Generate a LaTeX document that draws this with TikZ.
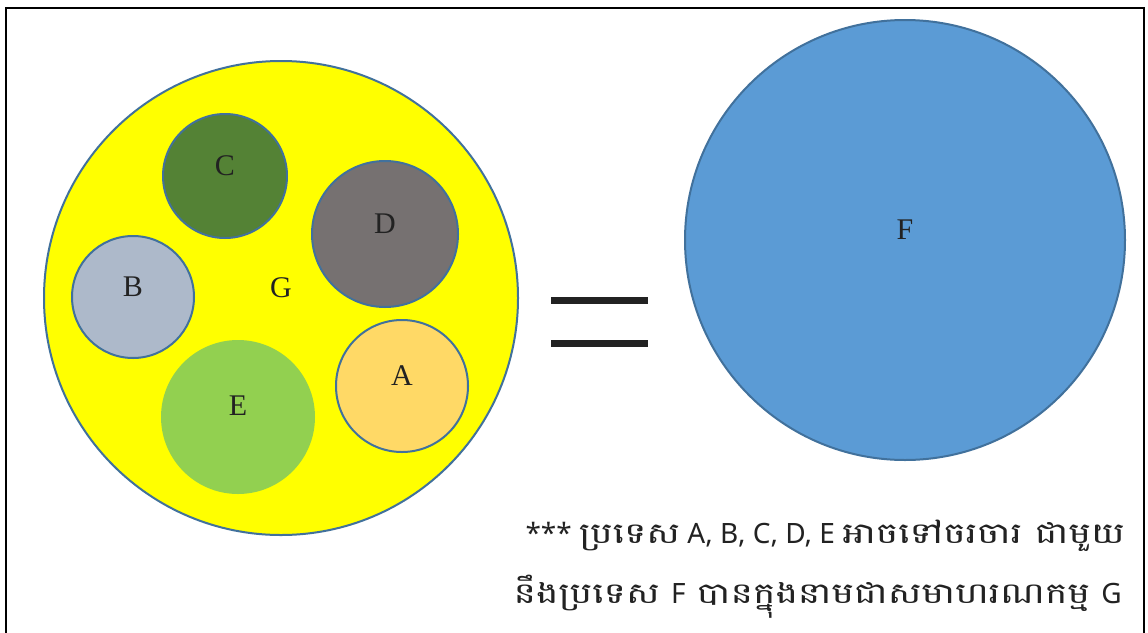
\documentclass[tikz,border=0pt]{standalone}
\usepackage{fontspec}
\setmainfont{Liberation Serif}
\newfontfamily\khmer[Script=Khmer,FakeStretch=1.3]{Battambang}
\newfontfamily\lat{Noto Sans}
\definecolor{ol}{HTML}{41719C}
\definecolor{cC}{HTML}{548235}
\definecolor{cD}{HTML}{767171}
\definecolor{cB}{HTML}{ADB9CA}
\definecolor{cE}{HTML}{92D050}
\definecolor{cA}{HTML}{FFD966}
\definecolor{cF}{HTML}{5B9BD5}
\definecolor{cG}{HTML}{FFFF00}
\definecolor{txt}{HTML}{222222}
\newcommand{\kh}[1]{{\khmer\fontsize{29}{34}\selectfont #1}}
\newcommand{\la}[1]{{\lat\fontsize{28}{34}\selectfont #1}}
\begin{document}
\begin{tikzpicture}[x=1pt,y=-1pt,
  blob/.style={circle,inner sep=0pt,draw=ol,line width=2pt},
  lab/.style={text=txt,font=\fontsize{30}{36}\selectfont,inner sep=0pt},
  captxt/.style={text=txt,inner sep=0pt,anchor=base east,font=\lat\fontsize{28}{34}\selectfont}]
\useasboundingbox (0,0) rectangle (1148,632);
\fill[white] (0,0) rectangle (1148,632);
\draw[line width=2.5pt,black] (6,645) coordinate (fbl) -- (6,8) coordinate (ftl) -- (1144,8) coordinate (ftr) -- (1144,645) coordinate (fbr);
% big yellow circle G
\node[blob,fill=cG,minimum size=474pt] (G) at (281,298) {};
\node[lab] (Gl) at (281,288) {G};
\node[blob,fill=cC,minimum size=124pt] (C) at (225,176) {};
\node[lab] (Cl) at (225,166) {C};
\node[blob,fill=cD,minimum size=146pt] (D) at (385,234) {};
\node[lab] (Dl) at (385,224) {D};
\node[blob,fill=cB,minimum size=122pt] (B) at (133,297) {};
\node[lab] (Bl) at (133,287) {B};
\node[circle,inner sep=0pt,fill=cE,minimum size=154pt] (E) at (238,417) {};
\node[lab] (El) at (238,406) {E};
\node[blob,fill=cA,minimum size=132pt] (A) at (402,386) {};
\node[lab] (Al) at (402,376) {A};
% equals sign
\fill[txt] (551,297) rectangle (648,304);
\fill[txt] (551,340) rectangle (648,347);
% big blue circle F
\node[blob,fill=cF,minimum size=440pt] (F) at (905,240) {};
\node[lab] (Fl) at (905,230) {F};
% caption
\node[captxt] (t1) at (1125,543) {\la{***} \kh{ប្រទេស} \la{A, B, C, D, E} \kh{អាចទៅចរចារ ជាមួយ}};
\node[captxt] (t2) at (1122,603) {\kh{នឹងប្រទេស}\hspace{4pt} \la{F}\hspace{4pt} \kh{បានក្នុងនាមជាសមាហរណកម្ម}\hspace{4pt} \la{G}};
\end{tikzpicture}
\end{document}
